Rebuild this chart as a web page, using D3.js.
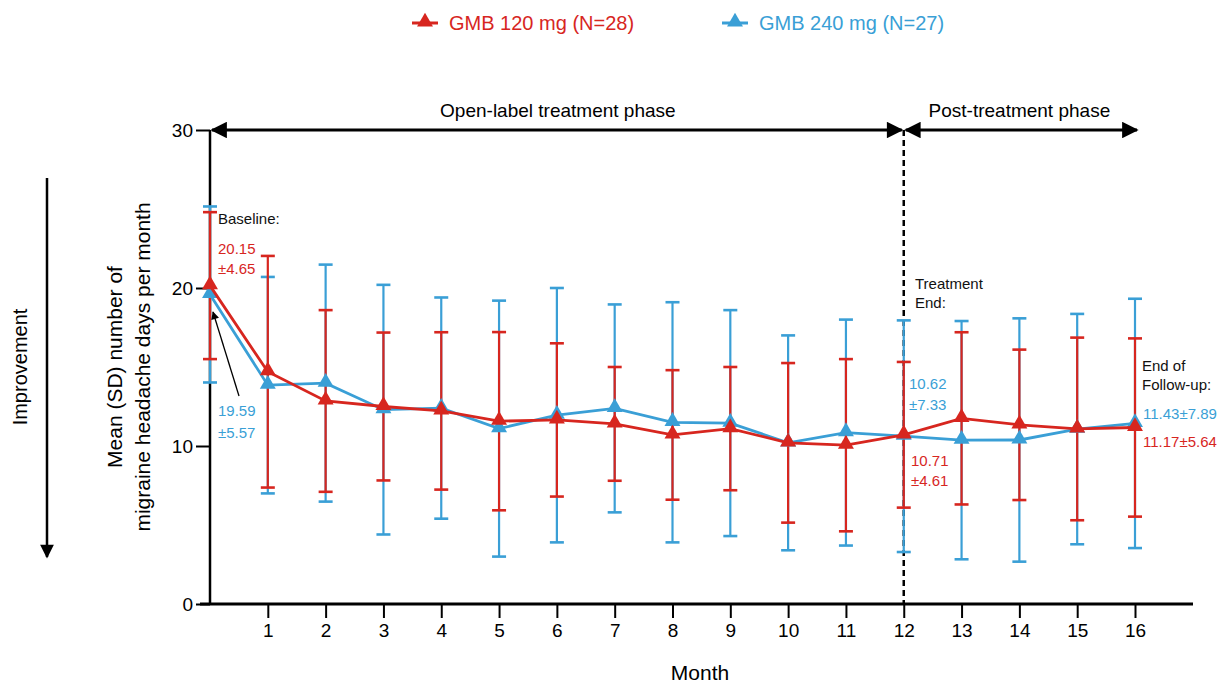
<!DOCTYPE html>
<html>
<head>
<meta charset="utf-8">
<script src="https://cdn.jsdelivr.net/npm/d3@7.9.0/dist/d3.min.js"></script>
<style>
  body { margin: 0; background: #fff; }
  svg { font-family: "Liberation Sans", Arial, sans-serif; }
</style>
</head>
<body>
<div id="chart"></div>
<script>
const months = d3.range(0, 17);

const mean120 = [20.15, 14.7, 12.85, 12.5, 12.22, 11.57, 11.65, 11.4, 10.7, 11.1, 10.2, 10.05, 10.71, 11.75, 11.34, 11.08, 11.17];
const sd120 = [4.65, 7.33, 5.75, 4.68, 4.98, 5.64, 4.85, 3.6, 4.1, 3.9, 5.05, 5.45, 4.61, 5.45, 4.76, 5.78, 5.64];

const mean240 = [19.59, 13.85, 13.98, 12.3, 12.4, 11.1, 11.95, 12.38, 11.5, 11.45, 10.2, 10.85, 10.62, 10.37, 10.38, 11.07, 11.43];
const sd240 = [5.57, 6.85, 7.5, 7.9, 7.0, 8.1, 8.05, 6.58, 7.6, 7.15, 6.8, 7.15, 7.33, 7.54, 7.7, 7.29, 7.89];

const yTicks = [0, 10, 20, 30];
const xTicks = d3.range(1, 17);

const series = [
  { name: 'GMB 240 mg (N=27)', color: '#3a9fd6', mean: mean240, sd: sd240 },
  { name: 'GMB 120 mg (N=28)', color: '#d7261f', mean: mean120, sd: sd120 },
];

const width = 1218, height = 684;
const svg = d3.select('#chart').append('svg')
  .attr('width', width).attr('height', height);

const x = d3.scaleLinear().domain([0, 16]).range([210, 1135]);
const y = d3.scaleLinear().domain([0, 30]).range([604, 130]);

const defs = svg.append('defs');
defs.append('marker')
  .attr('id', 'arrow').attr('viewBox', '0 0 10 10')
  .attr('refX', 9).attr('refY', 5)
  .attr('markerWidth', 7).attr('markerHeight', 5.5)
  .attr('markerUnits', 'strokeWidth')
  .attr('orient', 'auto-start-reverse')
  .append('path').attr('d', 'M0,0 L10,5 L0,10 Z').attr('fill', '#000');
defs.append('marker')
  .attr('id', 'thin').attr('viewBox', '0 0 10 10')
  .attr('refX', 9).attr('refY', 5)
  .attr('markerWidth', 10).attr('markerHeight', 8)
  .attr('markerUnits', 'userSpaceOnUse')
  .attr('orient', 'auto')
  .append('path').attr('d', 'M0,0 L10,5 L0,10 Z').attr('fill', '#000');

// dashed line at treatment end
svg.append('line')
  .attr('x1', x(12)).attr('x2', x(12))
  .attr('y1', y(30)).attr('y2', y(0))
  .attr('stroke', '#000').attr('stroke-width', 2.5)
  .attr('stroke-dasharray', '6,4');

// axes
const yAxis = svg.append('g')
  .attr('transform', `translate(${x(0)},0)`)
  .call(d3.axisLeft(y).tickValues(yTicks).tickSize(14).tickPadding(3));
yAxis.select('.domain').attr('stroke-width', 2.5).attr('d', `M0,${y(30)}V${y(0)}`);
yAxis.selectAll('.tick line').attr('stroke-width', 2);
yAxis.selectAll('.tick text').attr('font-size', 19).attr('fill', '#000');

const xAxis = svg.append('g')
  .attr('transform', `translate(0,${y(0)})`)
  .call(d3.axisBottom(x).tickValues(xTicks).tickSize(14).tickPadding(6));
xAxis.select('.domain').attr('stroke-width', 3).attr('d', `M200,0H1193`);
xAxis.selectAll('.tick line').attr('stroke-width', 2);
xAxis.selectAll('.tick text').attr('font-size', 19).attr('fill', '#000');

// phase arrows
svg.append('line')
  .attr('x1', x(0) + 2).attr('x2', x(12) - 2)
  .attr('y1', y(30)).attr('y2', y(30))
  .attr('stroke', '#000').attr('stroke-width', 3)
  .attr('marker-start', 'url(#arrow)').attr('marker-end', 'url(#arrow)');
svg.append('line')
  .attr('x1', x(12) + 2).attr('x2', x(16) + 2)
  .attr('y1', y(30)).attr('y2', y(30))
  .attr('stroke', '#000').attr('stroke-width', 3)
  .attr('marker-start', 'url(#arrow)').attr('marker-end', 'url(#arrow)');
svg.append('text').attr('x', (x(0) + x(12)) / 2 + 1).attr('y', 117)
  .attr('text-anchor', 'middle').attr('font-size', 19).text('Open-label treatment phase');
svg.append('text').attr('x', (x(12) + x(16)) / 2).attr('y', 117)
  .attr('text-anchor', 'middle').attr('font-size', 19).text('Post-treatment phase');

// error bars and lines
const capW = 7;
series.forEach(s => {
  const g = svg.append('g').attr('stroke', s.color).attr('stroke-width', 2.2);
  months.forEach((m, i) => {
    const top = y(s.mean[i] + s.sd[i]), bot = y(s.mean[i] - s.sd[i]);
    g.append('line').attr('x1', x(m)).attr('x2', x(m)).attr('y1', top).attr('y2', bot);
    g.append('line').attr('x1', x(m) - capW).attr('x2', x(m) + capW).attr('y1', top).attr('y2', top).attr('stroke-width', 2.6);
    g.append('line').attr('x1', x(m) - capW).attr('x2', x(m) + capW).attr('y1', bot).attr('y2', bot).attr('stroke-width', 2.6);
  });
});

const tri = d3.symbol().type(d3.symbolTriangle).size(110);
series.forEach(s => {
  svg.append('path')
    .datum(months)
    .attr('fill', 'none').attr('stroke', s.color).attr('stroke-width', 2.8)
    .attr('d', d3.line().x(m => x(m)).y((m, i) => y(s.mean[i])));
  svg.append('g').selectAll('path').data(months).join('path')
    .attr('transform', (m, i) => `translate(${x(m)},${y(s.mean[i]) - 1})`)
    .attr('d', tri).attr('fill', s.color);
});

// legend
const legend = [
  { s: series[1], x: 425 },
  { s: series[0], x: 735 },
];
legend.forEach(l => {
  const g = svg.append('g').attr('transform', `translate(${l.x},23)`);
  g.append('line').attr('x1', -13).attr('x2', 13).attr('stroke', l.s.color).attr('stroke-width', 3);
  g.append('path').attr('d', tri).attr('fill', l.s.color).attr('transform', 'translate(0,-1)');
  g.append('text').attr('x', 24).attr('y', 7).attr('font-size', 20).attr('fill', l.s.color).text(l.s.name);
});

// annotations
const red = series[1].color, blue = series[0].color;
function label(tx, ty, str, color) {
  svg.append('text').attr('x', tx).attr('y', ty).attr('font-size', 15)
    .attr('fill', color).text(str);
}
label(218, 224, 'Baseline:', '#111');
label(218, 254, '20.15', red);
label(218, 274, '±4.65', red);
label(218, 416, '19.59', blue);
label(218, 438, '±5.57', blue);
svg.append('line').attr('x1', 239).attr('y1', 396).attr('x2', 213).attr('y2', 312)
  .attr('stroke', '#000').attr('stroke-width', 1.3).attr('marker-end', 'url(#thin)');

label(915, 289, 'Treatment', '#111');
label(915, 308, 'End:', '#111');
label(909, 389, '10.62', blue);
label(909, 410, '±7.33', blue);
label(911, 466, '10.71', red);
label(911, 486, '±4.61', red);

label(1142, 371, 'End of', '#111');
label(1142, 390, 'Follow-up:', '#111');
label(1143, 419, '11.43±7.89', blue);
label(1143, 447, '11.17±5.64', red);

// axis titles
svg.append('text')
  .attr('transform', 'translate(122,367) rotate(-90)')
  .attr('text-anchor', 'middle').attr('font-size', 21)
  .text('Mean (SD) number of');
svg.append('text')
  .attr('transform', 'translate(150,367) rotate(-90)')
  .attr('text-anchor', 'middle').attr('font-size', 21)
  .text('migraine headache days per month');
svg.append('text')
  .attr('transform', 'translate(27,367) rotate(-90)')
  .attr('text-anchor', 'middle').attr('font-size', 20)
  .text('Improvement');
svg.append('line').attr('x1', 47).attr('x2', 47).attr('y1', 178).attr('y2', 557)
  .attr('stroke', '#000').attr('stroke-width', 2.5).attr('marker-end', 'url(#arrow)');

svg.append('text').attr('x', 700).attr('y', 680)
  .attr('text-anchor', 'middle').attr('font-size', 21).text('Month');
</script>
</body>
</html>
